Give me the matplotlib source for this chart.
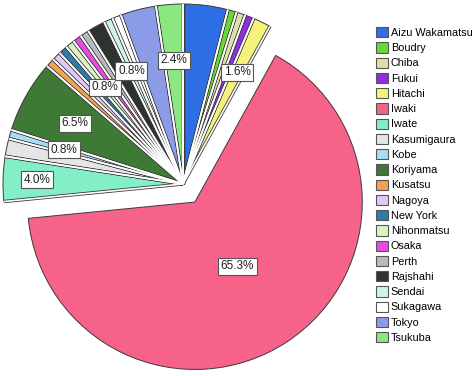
import numpy as np
import matplotlib.pyplot as plt
from matplotlib.patches import Patch

plt.rcParams['font.family'] = ['Liberation Sans', 'DejaVu Sans']

# shares (percent)
cities = ['Aizu Wakamatsu', 'Boudry', 'Chiba', 'Fukui', 'Hitachi', 'Iwaki',
          'Iwate', 'Kasumigaura', 'Kobe', 'Koriyama', 'Kusatsu', 'Nagoya',
          'New York', 'Nihonmatsu', 'Osaka', 'Perth', 'Rajshahi', 'Sendai',
          'Sukagawa', 'Tokyo', 'Tsukuba']
share = [4.0, 0.8, 0.8, 0.8, 1.6, 65.3,
         4.0, 1.6, 0.8, 6.5, 0.8, 0.8,
         0.8, 0.8, 0.8, 0.8, 1.6, 0.8,
         0.8, 3.2, 2.4]
colors = ['#2f6fe6', '#66d934', '#e0dfaa', '#8b2fe0', '#f5f27c', '#f7628a',
          '#82efc6', '#e3e5e6', '#a9dcf3', '#3e7a36', '#f5a152', '#e2c9f3',
          '#2b7cab', '#d9f4c2', '#e64ce0', '#b8bbbd', '#2e3332', '#cff4e4',
          '#ffffff', '#8c9be8', '#8be77f']
labelled = ['Hitachi', 'Iwaki', 'Iwate', 'Kobe', 'Koriyama', 'Nihonmatsu',
            'Sendai', 'Tsukuba']

# label distance from the slice tip, as a fraction of the radius
label_r = {'Iwaki': 0.46, 'Iwate': 0.81}

fig = plt.figure(figsize=(4.74, 3.76), dpi=100)
ax = fig.add_axes([0, 0, 1, 1])

cx, cy, R = 183, 192, 180   # pie centre / radius in pixels (from bottom-left)
W, H = 474, 376

explode = [0.12 if c == 'Iwaki' else 0 for c in cities]
wedges, _ = ax.pie(share, colors=colors, explode=explode, startangle=90,
                   counterclock=False,
                   wedgeprops=dict(edgecolor='#3a3a3a', linewidth=0.7))
wedges[cities.index('Iwaki')].set_radius(0.93)

# white separators with dark rims between the small slices
for c, w in zip(cities, wedges):
    if c == 'Iwaki':
        continue
    x0, y0 = w.center
    for t in (w.theta1, w.theta2):
        xs = [x0, x0 + w.r * np.cos(np.radians(t))]
        ys = [y0, y0 + w.r * np.sin(np.radians(t))]
        ax.plot(xs, ys, color='#3a3a3a', lw=2.4, solid_capstyle='butt', zorder=3)
        ax.plot(xs, ys, color='white', lw=1.2, solid_capstyle='butt', zorder=4)

for c, v, w in zip(cities, share, wedges):
    if c not in labelled:
        continue
    t = np.radians((w.theta1 + w.theta2) / 2)
    x0, y0 = w.center
    rr = label_r.get(c, 0.69) * w.r
    ax.text(x0 + rr * np.cos(t), y0 + rr * np.sin(t), f'{v:.1f}%',
            ha='center', va='center', fontsize=8.5, color='#222222', zorder=6,
            bbox=dict(boxstyle='square,pad=0.22', fc='white', ec='#555555', lw=0.8))

ax.set_xlim(-cx / R, (W - cx) / R)
ax.set_ylim(-cy / R, (H - cy) / R)
ax.set_aspect('equal', adjustable='box')
ax.axis('off')

handles = [Patch(facecolor=col, edgecolor='#555555', lw=0.8) for col in colors]
fig.legend(handles, cities, loc='upper left',
           bbox_to_anchor=(376 / W, 1 - 27 / H), frameon=False, fontsize=7.8,
           handlelength=1.08, handleheight=1.08, handletextpad=0.3,
           labelspacing=0.41, borderpad=0, borderaxespad=0)

fig.savefig('out.png', dpi=100)
